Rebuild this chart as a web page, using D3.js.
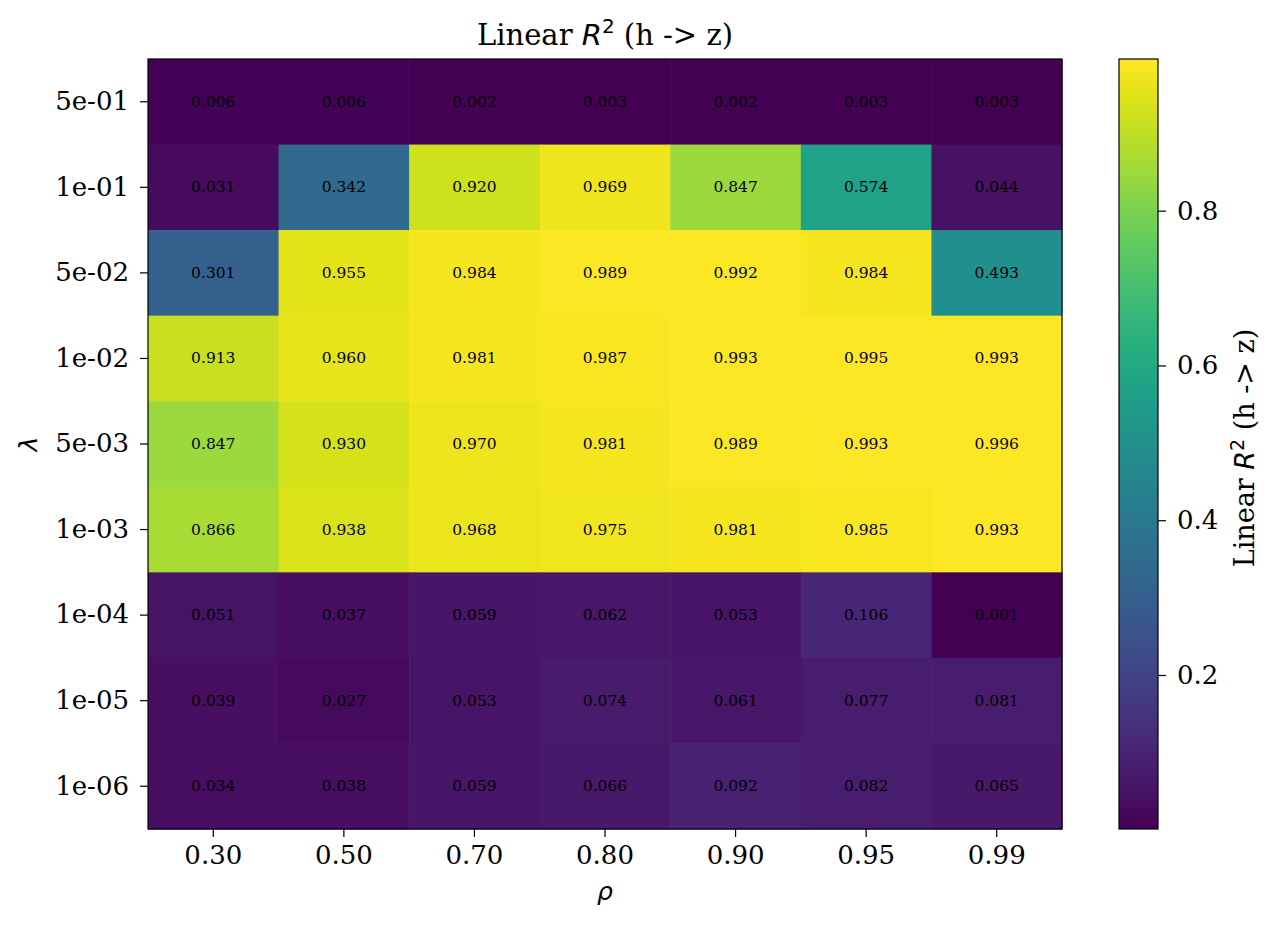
<!DOCTYPE html>
<html>
<head>
<meta charset="utf-8">
<script src="https://cdn.jsdelivr.net/npm/d3@7"></script>
<style>
  body { margin: 0; background: #fff; }
  svg text { font-family: "DejaVu Serif", serif; }
</style>
</head>
<body>
<div id="myChart"></div>
<script>
// data
let rhos = ["0.30", "0.50", "0.70", "0.80", "0.90", "0.95", "0.99"];
let lambdas = ["5e-01", "1e-01", "5e-02", "1e-02", "5e-03", "1e-03", "1e-04", "1e-05", "1e-06"];
let r2 = [
    [0.006, 0.006, 0.002, 0.003, 0.002, 0.003, 0.003],
    [0.031, 0.342, 0.920, 0.969, 0.847, 0.574, 0.044],
    [0.301, 0.955, 0.984, 0.989, 0.992, 0.984, 0.493],
    [0.913, 0.960, 0.981, 0.987, 0.993, 0.995, 0.993],
    [0.847, 0.930, 0.970, 0.981, 0.989, 0.993, 0.996],
    [0.866, 0.938, 0.968, 0.975, 0.981, 0.985, 0.993],
    [0.051, 0.037, 0.059, 0.062, 0.053, 0.106, 0.001],
    [0.039, 0.027, 0.053, 0.074, 0.061, 0.077, 0.081],
    [0.034, 0.038, 0.059, 0.066, 0.092, 0.082, 0.065]
];
let cbarTicks = [0.2, 0.4, 0.6, 0.8];

// dimensions
let margin = {top: 59, left: 148},
    width = 914,
    height = 770;

let svg = d3.select("#myChart")
    .append("svg")
        .attr("width", 1280)
        .attr("height", 929);

let g = svg.append("g")
    .attr("transform", "translate(" + margin.left + "," + margin.top + ")");

// scales
let x = d3.scaleBand().domain(rhos).range([0, width]);
let y = d3.scaleBand().domain(lambdas).range([0, height]);

let allVals = r2.flat();
let vmin = d3.min(allVals), vmax = d3.max(allVals);
let color = d3.scaleSequential(d3.interpolateViridis).domain([vmin, vmax]);

// cells
let cells = [];
r2.forEach(function(row, i) {
    row.forEach(function(v, j) {
        cells.push({lam: lambdas[i], rho: rhos[j], v: v});
    });
});

g.selectAll("rect.cell")
    .data(cells)
    .enter()
    .append("rect")
        .attr("class", "cell")
        .attr("x", function(d) { return x(d.rho); })
        .attr("y", function(d) { return y(d.lam); })
        .attr("width", x.bandwidth() + 0.5)
        .attr("height", y.bandwidth() + 0.5)
        .style("fill", function(d) { return color(d.v); });

g.selectAll("text.val")
    .data(cells)
    .enter()
    .append("text")
        .attr("class", "val")
        .attr("x", function(d) { return x(d.rho) + x.bandwidth() / 2; })
        .attr("y", function(d) { return y(d.lam) + y.bandwidth() / 2; })
        .attr("text-anchor", "middle")
        .attr("dominant-baseline", "central")
        .style("font-size", "15.5px")
        .style("fill", "#000")
        .text(function(d) { return d.v.toFixed(3); });

// frame
g.append("rect")
    .attr("width", width)
    .attr("height", height)
    .style("fill", "none")
    .style("stroke", "#000")
    .style("stroke-width", 1.2);

// axes
let xAxis = g.append("g")
    .attr("transform", "translate(0," + height + ")")
    .call(d3.axisBottom(x).tickSize(8).tickPadding(9));
let yAxis = g.append("g")
    .call(d3.axisLeft(y).tickSize(8).tickPadding(11));

[xAxis, yAxis].forEach(function(a) {
    a.select(".domain").remove();
    a.selectAll("text").style("font-size", "26px").style("font-family", "DejaVu Serif, serif").style("fill", "#000");
    a.selectAll("line").style("stroke", "#000").style("stroke-width", 1.2);
});

// axis labels
svg.append("text")
    .attr("x", margin.left + width / 2)
    .attr("y", 900)
    .attr("text-anchor", "middle")
    .style("font-size", "25px")
    .style("font-style", "italic")
    .style("font-family", "DejaVu Sans, sans-serif")
    .text("ρ");

svg.append("text")
    .attr("transform", "translate(37," + (margin.top + height / 2) + ") rotate(-90)")
    .attr("text-anchor", "middle")
    .style("font-size", "25px")
    .style("font-style", "italic")
    .style("font-family", "DejaVu Sans, sans-serif")
    .text("λ");

// title
let title = svg.append("text")
    .attr("x", margin.left + width / 2)
    .attr("y", 45)
    .attr("text-anchor", "middle")
    .style("font-size", "29px");
title.append("tspan").text("Linear ");
title.append("tspan").style("font-style", "italic").style("font-family", "DejaVu Sans, sans-serif").text("R");
title.append("tspan").attr("dy", -12).style("font-size", "20px").style("font-family", "DejaVu Sans, sans-serif").text("2");
title.append("tspan").attr("dy", 12).text(" (h -> z)");

// colorbar
let cbX = 1119, cbW = 39;
let cy = d3.scaleLinear().domain([vmin, vmax]).range([margin.top + height, margin.top]);

let defs = svg.append("defs");
let grad = defs.append("linearGradient")
    .attr("id", "cbgrad")
    .attr("x1", "0").attr("y1", "1").attr("x2", "0").attr("y2", "0");
d3.range(0, 1.0001, 0.05).forEach(function(t) {
    grad.append("stop")
        .attr("offset", t)
        .attr("stop-color", d3.interpolateViridis(t));
});

svg.append("rect")
    .attr("x", cbX)
    .attr("y", margin.top)
    .attr("width", cbW)
    .attr("height", height)
    .style("fill", "url(#cbgrad)")
    .style("stroke", "#000")
    .style("stroke-width", 1.2);

let cAxis = svg.append("g")
    .attr("transform", "translate(" + (cbX + cbW) + ",0)")
    .call(d3.axisRight(cy).tickValues(cbarTicks).tickFormat(d3.format(".1f")).tickSize(8).tickPadding(11));
cAxis.select(".domain").remove();
cAxis.selectAll("text").style("font-size", "26px").style("font-family", "DejaVu Serif, serif").style("fill", "#000");
cAxis.selectAll("line").style("stroke", "#000").style("stroke-width", 1.2);

let cLabel = svg.append("text")
    .attr("transform", "translate(1254," + (margin.top + height / 2 + 4) + ") rotate(-90)")
    .attr("text-anchor", "middle")
    .style("font-size", "27px");
cLabel.append("tspan").text("Linear ");
cLabel.append("tspan").style("font-style", "italic").style("font-family", "DejaVu Sans, sans-serif").text("R");
cLabel.append("tspan").attr("dy", -10).style("font-size", "19px").style("font-family", "DejaVu Sans, sans-serif").text("2");
cLabel.append("tspan").attr("dy", 10).text(" (h -> z)");
</script>
</body>
</html>
